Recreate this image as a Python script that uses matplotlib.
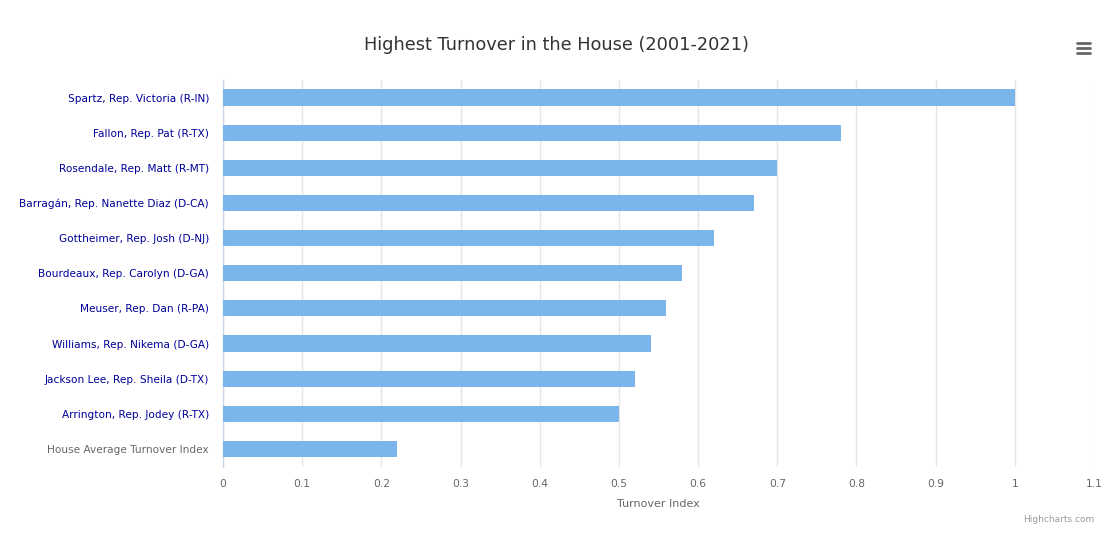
import matplotlib.pyplot as plt
from matplotlib.lines import Line2D

# Data
members = [
    "Spartz, Rep. Victoria (R-IN)",
    "Fallon, Rep. Pat (R-TX)",
    "Rosendale, Rep. Matt (R-MT)",
    "Barragán, Rep. Nanette Diaz (D-CA)",
    "Gottheimer, Rep. Josh (D-NJ)",
    "Bourdeaux, Rep. Carolyn (D-GA)",
    "Meuser, Rep. Dan (R-PA)",
    "Williams, Rep. Nikema (D-GA)",
    "Jackson Lee, Rep. Sheila (D-TX)",
    "Arrington, Rep. Jodey (R-TX)",
    "House Average Turnover Index",
]
turnover = [1.0, 0.78, 0.70, 0.67, 0.62, 0.58, 0.56, 0.54, 0.52, 0.50, 0.22]
x_ticks = [0, 0.1, 0.2, 0.3, 0.4, 0.5, 0.6, 0.7, 0.8, 0.9, 1.0, 1.1]
x_tick_labels = ["0", "0.1", "0.2", "0.3", "0.4", "0.5", "0.6", "0.7", "0.8", "0.9", "1", "1.1"]

plt.rcParams['font.family'] = ['DejaVu Sans']

fig = plt.figure(figsize=(11.1, 5.41), dpi=100)
ax = fig.add_axes([223 / 1110, 1 - 466.5 / 541, (1094 - 223) / 1110, (466.5 - 80) / 541])

positions = list(range(len(members)))
ax.barh(positions, turnover, height=0.46, color="#7cb5ec", zorder=3)

ax.set_ylim(len(members) - 0.5, -0.5)
ax.set_xlim(0, 1.1)
ax.set_xticks(x_ticks)
ax.set_xticklabels(x_tick_labels)
ax.set_yticks(positions)
ax.set_yticklabels(members)

ax.grid(axis="x", color="#e6e6e6", linewidth=1, zorder=0)
for side in ["top", "right", "bottom"]:
    ax.spines[side].set_visible(False)
ax.spines["left"].set_color("#ccd6eb")
ax.spines["left"].set_linewidth(1)

ax.tick_params(axis="x", length=0, pad=9, labelsize=7.7, labelcolor="#666666")
ax.tick_params(axis="y", length=0, pad=10, labelsize=7.6)
for lbl in ax.get_yticklabels():
    if lbl.get_text().startswith("House"):
        lbl.set_color("#666666")
    else:
        lbl.set_color("#000099")

ax.set_xlabel("Turnover Index", fontsize=8, color="#666666", labelpad=7)

fig.text(557 / 1110, 1 - 45 / 541, "Highest Turnover in the House (2001-2021)",
         ha="center", va="center", fontsize=12.8, color="#333333")
fig.text(1094 / 1110, 1 - 519 / 541, "Highcharts.com", ha="right", va="center",
         fontsize=6.5, color="#999999")

# context menu icon
for yy in [43.3, 48.3, 53.3]:
    fig.add_artist(Line2D([1077 / 1110, 1090 / 1110], [1 - yy / 541, 1 - yy / 541],
                          color="#666666", linewidth=2.0, solid_capstyle="round"))

fig.savefig("out.png", dpi=100, facecolor="white")
